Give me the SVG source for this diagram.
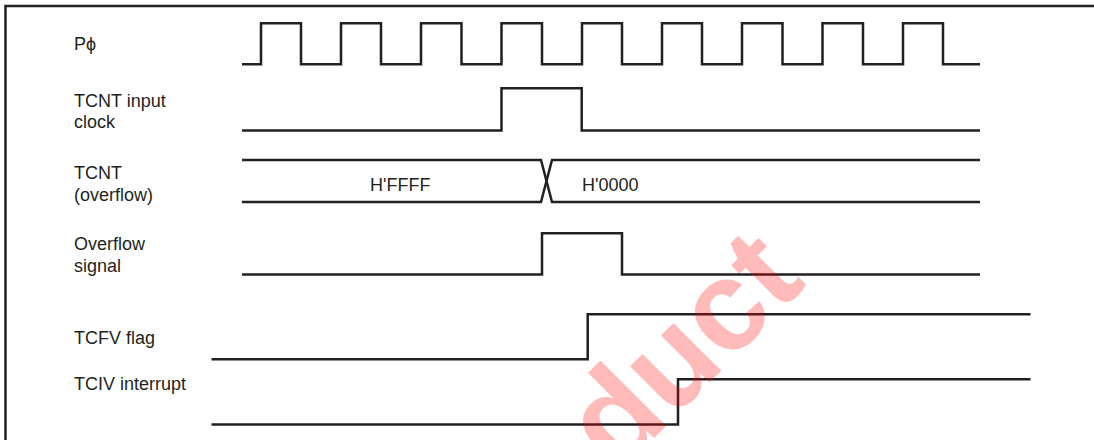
<svg xmlns="http://www.w3.org/2000/svg" width="1094" height="440" viewBox="0 0 1094 440">
<style>
.sig{fill:none;stroke:#231f20;stroke-width:2.5;stroke-linejoin:miter;stroke-linecap:butt}
.lbl{font-family:"Liberation Sans",Arial,sans-serif;font-size:18px;fill:#231f20}
.wm{font-family:"Liberation Sans",Arial,sans-serif;font-weight:bold;font-size:128px;fill:#ff0000;fill-opacity:0.27}
</style>
<rect width="1094" height="440" fill="#ffffff"/>
<g id="frame"><path class="sig" d="M5.5,440 V6 H1094"/></g>
<g id="labels">
<text class="lbl" x="74" y="49.5">Pϕ</text>
<text class="lbl" x="74" y="106.7">TCNT input</text>
<text class="lbl" x="74" y="128.3">clock</text>
<text class="lbl" x="74" y="179.3">TCNT</text>
<text class="lbl" x="74" y="200.9">(overflow)</text>
<text class="lbl" x="74" y="250">Overflow</text>
<text class="lbl" x="74" y="271.6">signal</text>
<text class="lbl" x="74" y="344.3">TCFV flag</text>
<text class="lbl" x="74" y="390">TCIV interrupt</text>
</g>
<g id="waveforms">
<g id="pclk"><path class="sig" d="M242,64.3 H261 V23.3 H301 V64.3 H341 V23.3 H381 V64.3 H421 V23.3 H461.5 V64.3 H501.5 V23.3 H542 V64.3 H582 V23.3 H622 V64.3 H662 V23.3 H702 V64.3 H742 V23.3 H782.5 V64.3 H822.5 V23.3 H863 V64.3 H903 V23.3 H943 V64.3 H980"/></g>
<g id="tcnt-clk"><path class="sig" d="M242,130.5 H501.5 V88.3 H581.7 V130.5 H980"/></g>
<g id="tcnt">
<path class="sig" d="M242,160 H541 L552,202 H980"/>
<path class="sig" d="M242,202 H541 L552,160 H980"/>
<text class="lbl" x="370" y="191">H'FFFF</text>
<text class="lbl" x="582" y="191">H'0000</text>
</g>
<g id="ovf"><path class="sig" d="M242,274.5 H542 V233.3 H622 V274.5 H980"/></g>
<g id="tcfv"><path class="sig" d="M211.5,359.3 H587.7 V314.3 H1030.5"/></g>
<g id="tciv"><path class="sig" d="M211.5,424.5 H678 V379.3 H1030.5"/></g>
</g>
<text class="wm" transform="translate(466,626) rotate(-45)">Product</text>
</svg>
